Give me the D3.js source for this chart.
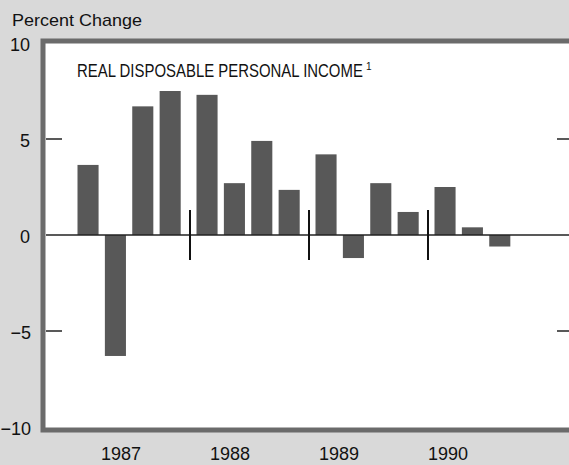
<!DOCTYPE html>
<html>
<head>
<meta charset="utf-8">
<script src="https://cdn.jsdelivr.net/npm/d3@7"></script>
<style>
  body { margin: 0; background: #d9d9d9; }
  svg { display: block; }
</style>
</head>
<body>
<svg id="drawing_region"></svg>
<script>
// quarterly percent change, by year
const years = [1987, 1988, 1989, 1990];
const quarters = [0, 1, 2, 3];
const values1987 = [3.65, -6.3, 6.7, 7.5];
const values1988 = [7.3, 2.7, 4.9, 2.35];
const values1989 = [4.2, -1.2, 2.7, 1.2];
const values1990 = [2.5, 0.4, -0.6];
const yTicks = [10, 5, 0, -5, -10];

const series = [values1987, values1988, values1989, values1990];
const data = [];
years.forEach((yr, i) => {
    series[i].forEach((v, q) => data.push({year: yr, quarter: q, value: v}));
});

var width = 569;
var height = 465;
var frame = {left: 43, top: 41, right: 573, bottom: 430};

var svg = d3.select('#drawing_region')
    .attr('width', width)
    .attr('height', height);

svg.append('rect')
    .attr('width', width)
    .attr('height', height)
    .attr('fill', '#d9d9d9');

svg.append('rect')
    .attr('x', frame.left)
    .attr('y', frame.top)
    .attr('width', frame.right - frame.left)
    .attr('height', frame.bottom - frame.top)
    .attr('fill', 'white')
    .attr('stroke', '#6b6b6b')
    .attr('stroke-width', 5);

const yscale = d3.scaleLinear()
    .domain([-10, 10])
    .range([427, 43]);

const xyear = d3.scaleBand()
    .domain(years)
    .range([71, 547]);

const xquarter = d3.scaleBand()
    .domain(quarters)
    .range([6.5, 109.7])
    .paddingInner(0.23);

// year labels sit a little left of the groups in the original
const xlabel = d3.scalePoint()
    .domain(years)
    .range([121, 448]);

// y axis labels, ticks on both sides
svg.selectAll('.ylab')
    .data(yTicks)
    .enter().append('text')
    .attr('x', d => d < 0 ? 31 : 30)
    .attr('y', d => yscale(d) + 3)
    .attr('text-anchor', 'end')
    .attr('dominant-baseline', 'middle')
    .attr('font-family', 'Liberation Sans, Arial, sans-serif')
    .attr('font-size', 18)
    .attr('fill', '#111')
    .text(d => d < 0 ? '\u2212' + Math.abs(d) : d);

svg.selectAll('.ltick')
    .data([5, -5])
    .enter().append('line')
    .attr('x1', 46).attr('x2', 62)
    .attr('y1', d => yscale(d)).attr('y2', d => yscale(d))
    .attr('stroke', '#222').attr('stroke-width', 1.5);

svg.selectAll('.rtick')
    .data([5, -5])
    .enter().append('line')
    .attr('x1', 557).attr('x2', 571)
    .attr('y1', d => yscale(d)).attr('y2', d => yscale(d))
    .attr('stroke', '#222').attr('stroke-width', 1.5);

// bars
svg.selectAll('.bar')
    .data(data)
    .enter().append('rect')
    .attr('x', d => xyear(d.year) + xquarter(d.quarter))
    .attr('y', d => yscale(Math.max(0, d.value)))
    .attr('width', xquarter.bandwidth())
    .attr('height', d => Math.abs(yscale(d.value) - yscale(0)))
    .attr('fill', '#585858');

// zero line
svg.append('line')
    .attr('x1', 46).attr('x2', 571)
    .attr('y1', yscale(0)).attr('y2', yscale(0))
    .attr('stroke', '#222').attr('stroke-width', 1.6);

// year dividers
svg.selectAll('.divider')
    .data(years.slice(1))
    .enter().append('line')
    .attr('x1', d => xyear(d)).attr('x2', d => xyear(d))
    .attr('y1', yscale(1.3)).attr('y2', yscale(-1.3))
    .attr('stroke', '#111').attr('stroke-width', 2);

// year labels
svg.selectAll('.xlab')
    .data(years)
    .enter().append('text')
    .attr('x', d => xlabel(d))
    .attr('y', 460)
    .attr('text-anchor', 'middle')
    .attr('font-family', 'Liberation Sans, Arial, sans-serif')
    .attr('font-size', 18)
    .attr('fill', '#111')
    .text(d => d);

svg.append('text')
    .attr('x', 12)
    .attr('y', 26)
    .attr('font-family', 'Liberation Sans, Arial, sans-serif')
    .attr('font-size', 17)
    .attr('fill', '#111')
    .attr('textLength', 130)
    .attr('lengthAdjust', 'spacingAndGlyphs')
    .text('Percent Change');

// condensed title: squeeze a regular face horizontally
const titleGroup = svg.append('g');
const title = titleGroup.append('text')
    .attr('font-family', 'Liberation Sans, Arial, sans-serif')
    .attr('font-size', 19)
    .attr('fill', '#111')
    .text('REAL DISPOSABLE PERSONAL INCOME');

const natural = title.node().getComputedTextLength();
titleGroup.attr('transform', `translate(77, 77) scale(${286 / natural}, 1)`);

// footnote marker
svg.append('text')
    .attr('x', 366)
    .attr('y', 70)
    .attr('font-family', 'Liberation Sans, Arial, sans-serif')
    .attr('font-size', 10)
    .attr('fill', '#111')
    .text('1');
</script>
</body>
</html>
